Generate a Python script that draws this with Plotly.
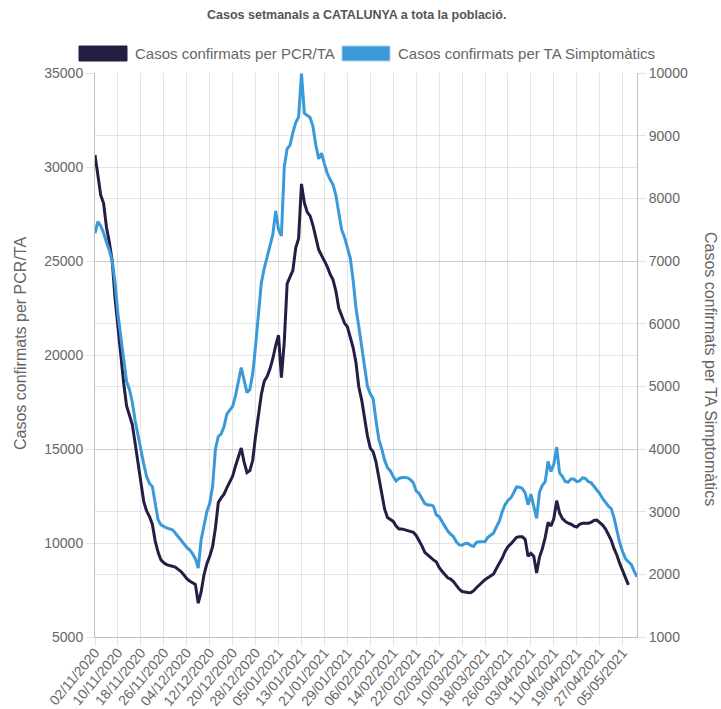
import pandas as pd
import plotly.graph_objects as go

start_date = "2020-11-02"
end_date = "2021-05-10"

series_pcr_name = "Casos confirmats per PCR/TA"
series_ta_name = "Casos confirmats per TA Simptomàtics"
title_text = "Casos setmanals a CATALUNYA a tota la població."

# daily values, starting 02/11/2020
pcr_ta = [
    30640, 29500, 28500, 28070, 26800, 26000, 25000, 23000, 21400, 20200,
    18500, 17300, 16800, 16300, 15300, 14300, 13200, 12200, 11700, 11400,
    11000, 10100, 9500, 9100, 8950, 8850, 8800, 8760, 8720, 8600,
    8480, 8300, 8100, 7980, 7900, 7800, 6800, 7400, 8300, 8900,
    9300, 9800, 10800, 12150, 12400, 12600, 12950, 13250, 13550, 14100,
    14600, 15050, 14300, 13750, 13850, 14400, 15700, 16800, 17900, 18600,
    18850, 19250, 19800, 20500, 21050, 18800, 20700, 23800, 24200, 24500,
    25700, 26200, 29100, 28100, 27600, 27400, 26900, 26200, 25600, 25300,
    25000, 24700, 24300, 24000, 23400, 22500, 22100, 21700, 21500, 21000,
    20400, 19600, 18300, 17600, 16700, 15700, 15050, 14850, 14300, 13500,
    12500, 11800, 11350, 11250, 11150, 10900, 10750, 10750, 10700, 10650,
    10600, 10570, 10400, 10150, 9850, 9500, 9350, 9200, 9100, 9000,
    8700, 8500, 8300, 8150, 8080, 7950, 7750, 7550, 7420, 7380,
    7370, 7360, 7450, 7620, 7780, 7900, 8050, 8150, 8250, 8350,
    8650, 8900, 9200, 9550, 9800, 9950, 10150, 10300, 10330, 10330,
    10200, 9300, 9450, 9300, 8400, 9250, 9700, 10300, 11100, 10900,
    11300, 12250, 11600, 11300, 11150, 11050, 11000, 10900, 10850, 11000,
    11050, 11050, 11050, 11100, 11200, 11220, 11100, 10950, 10750, 10450,
    10150, 9700, 9350, 8900, 8500, 8100, 7770,
]

ta_simpt = [
    7442, 7627, 7560, 7450, 7300, 7170, 7000, 6650, 6150, 5780,
    5400, 5080, 4950, 4750, 4450, 4200, 3980, 3760, 3560, 3450,
    3400, 3100, 2870, 2790, 2760, 2740, 2725, 2710, 2660, 2600,
    2550, 2490, 2430, 2390, 2330, 2250, 2100, 2550, 2800, 3000,
    3130, 3400, 4000, 4200, 4240, 4360, 4560, 4630, 4680, 4850,
    5100, 5300, 5100, 4900, 4950, 5200, 5650, 6200, 6650, 6880,
    7050, 7220, 7420, 7800, 7500, 7400, 8500, 8790, 8850, 9050,
    9210, 9300, 9990, 9360, 9320, 9290, 9150, 8850, 8630, 8720,
    8550, 8400, 8300, 8220, 8050, 7800, 7500, 7380, 7200, 7050,
    6700, 6250, 5950, 5650, 5280, 5000, 4880, 4800, 4450, 4150,
    4000, 3820, 3700, 3650, 3560, 3490, 3530, 3545, 3545, 3540,
    3510, 3460, 3330, 3290, 3210, 3130, 3107, 3107, 3090, 2950,
    2920, 2840, 2780, 2690, 2640, 2600, 2520, 2470, 2465, 2490,
    2495, 2460, 2445, 2510, 2521, 2521, 2525, 2590, 2620, 2660,
    2760, 2850, 3000, 3110, 3180, 3220, 3300, 3395, 3390, 3370,
    3300, 3110, 3280, 3100, 2894, 3310, 3420, 3480, 3800, 3640,
    3760, 4030, 3620, 3560, 3480, 3470, 3520, 3520, 3480, 3490,
    3540, 3530, 3480, 3460, 3400, 3350, 3290, 3210, 3150, 3090,
    3050, 2900, 2700, 2500, 2360, 2250, 2200, 2160, 2050, 1962,
]

left_ticks = [5000, 10000, 15000, 20000, 25000, 30000, 35000]
right_ticks = [1000, 2000, 3000, 4000, 5000, 6000, 7000, 8000, 9000, 10000]

dates_pcr = pd.date_range(start_date, periods=len(pcr_ta), freq="D")
dates_ta = pd.date_range(start_date, periods=len(ta_simpt), freq="D")

DARK = "#231e44"
BLUE = "#3a9ad9"
GREY = "#666666"
GRID = "rgba(0,0,0,0.1)"
FONT = "Liberation Sans, Arial, Helvetica, sans-serif"

W, H = 721, 709
L, R, T, B = 95, 637, 73, 637


def px(x):
    return (x - L) / (R - L)


def py(y):
    return (B - y) / (B - T)


fig = go.Figure()
fig.add_trace(go.Scatter(x=dates_ta, y=ta_simpt, mode="lines", name=series_ta_name,
                         line=dict(color=BLUE, width=3), yaxis="y2", hoverinfo="x+y"))
fig.add_trace(go.Scatter(x=dates_pcr, y=pcr_ta, mode="lines", name=series_pcr_name,
                         line=dict(color=DARK, width=3), yaxis="y", hoverinfo="x+y"))

axis_common = dict(showgrid=True, gridcolor=GRID, gridwidth=1, ticks="outside", ticklen=8,
                   tickcolor=GRID, tickfont=dict(family=FONT, size=14, color=GREY),
                   zeroline=False, showline=True, linecolor="rgba(0,0,0,0.25)", linewidth=1,
                   automargin=False)

fig.update_layout(
    width=W, height=H,
    margin=dict(l=L, r=W - R, t=T, b=H - B, autoexpand=False),
    paper_bgcolor="white", plot_bgcolor="white",
    showlegend=False,
    font=dict(family=FONT, color=GREY),
    xaxis=dict(type="date", range=[start_date, end_date], tick0=start_date,
               dtick=8 * 86400000, tickformat="%d/%m/%Y", tickangle=-50,
               ticklabelstandoff=-7, **axis_common),
    yaxis=dict(range=[5000, 35000], tickvals=left_ticks, tickformat="d", **axis_common),
    yaxis2=dict(range=[1000, 10000], tickvals=right_ticks, tickformat="d", overlaying="y",
                side="right", **axis_common),
)

# legend drawn as boxes + labels
fig.add_shape(type="rect", xref="paper", yref="paper", x0=px(79), x1=px(127), y0=py(46), y1=py(61),
              fillcolor=DARK, line=dict(color=DARK, width=1))
fig.add_shape(type="rect", xref="paper", yref="paper", x0=px(342), x1=px(390), y0=py(46), y1=py(61),
              fillcolor=BLUE, line=dict(color="#a9d3f0", width=1))
fig.add_annotation(xref="paper", yref="paper", x=px(133), y=py(53.5), text=series_pcr_name,
                   showarrow=False, xanchor="left", yanchor="middle",
                   font=dict(family=FONT, size=15, color=GREY))
fig.add_annotation(xref="paper", yref="paper", x=px(396), y=py(53.5), text=series_ta_name,
                   showarrow=False, xanchor="left", yanchor="middle",
                   font=dict(family=FONT, size=15, color=GREY))

# title
fig.add_annotation(xref="paper", yref="paper", x=px(356), y=py(15), text="<b>" + title_text + "</b>",
                   showarrow=False, xanchor="center", yanchor="middle",
                   font=dict(family=FONT, size=12.5, color="#555555"))

# axis titles
fig.add_annotation(xref="paper", yref="paper", x=px(20), y=py(344), text=series_pcr_name,
                   showarrow=False, textangle=-90, xanchor="center", yanchor="middle",
                   font=dict(family=FONT, size=16, color=GREY))
fig.add_annotation(xref="paper", yref="paper", x=px(711), y=py(369), text=series_ta_name,
                   showarrow=False, textangle=90, xanchor="center", yanchor="middle",
                   font=dict(family=FONT, size=16, color=GREY))

fig.write_html("out.html", config={"displayModeBar": False},
               post_script="document.body.style.margin='0';document.body.style.padding='0';")
